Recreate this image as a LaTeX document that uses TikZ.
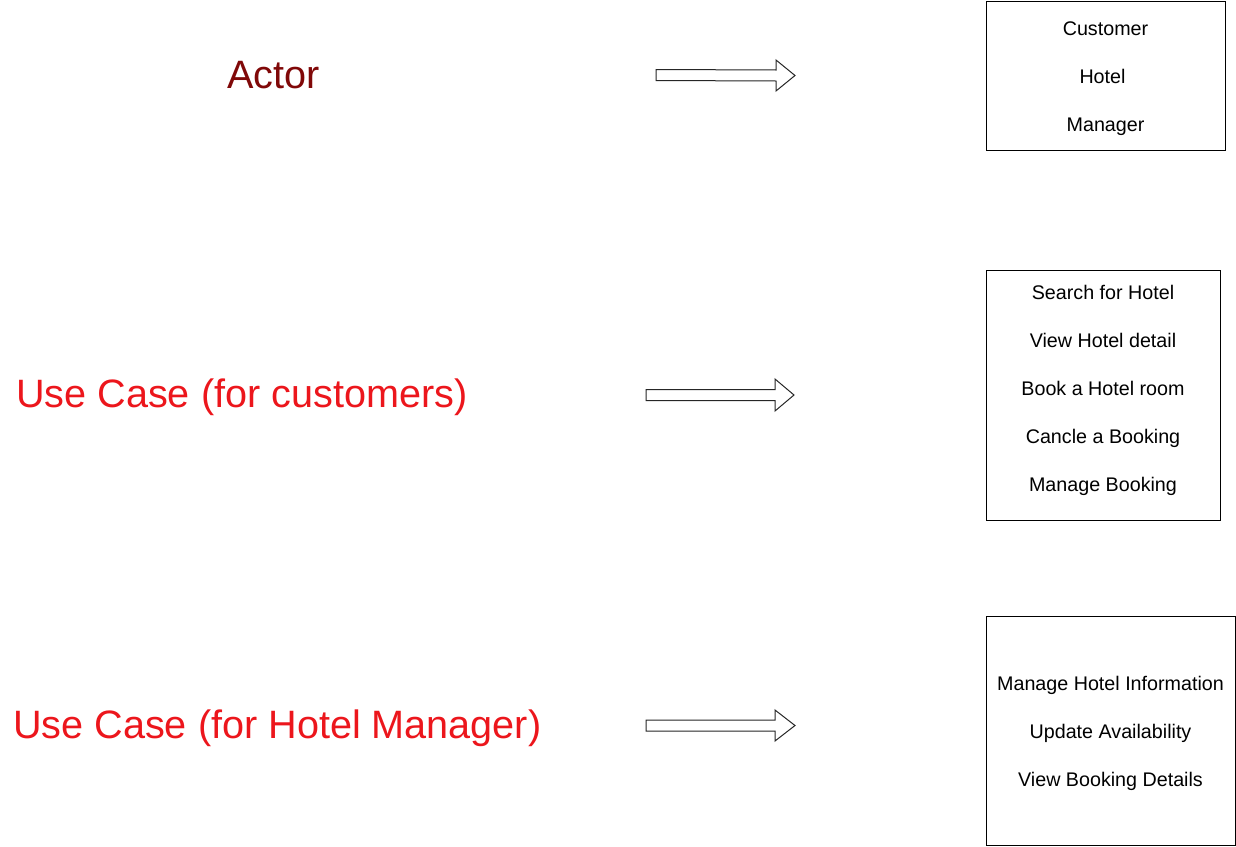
\documentclass[tikz,border=0pt]{standalone}
\usepackage{fontspec}
\setmainfont{Liberation Sans}
\definecolor{actorred}{RGB}{128,8,8}
\definecolor{ucred}{RGB}{236,22,28}
\tikzset{
  bigtitle/.style={font=\fontsize{39.6}{44}\selectfont, inner sep=0pt, anchor=base west},
  boxitem/.style={font=\fontsize{19.7}{22}\selectfont, inner sep=0pt, anchor=base},
  frame/.style={draw=black, line width=1pt, fill=white},
  blockarrow/.style={draw=black!85, line width=1pt, fill=white, line join=miter},
}
\begin{document}
\begin{tikzpicture}[x=1pt,y=-1pt]
\useasboundingbox (0,0) rectangle (1236,846);
% titles
\node[bigtitle, text=actorred] (actor) at (227,88) {Actor};
\node[bigtitle, text=ucred] (uccust) at (16,407) {Use Case (for customers)};
\node[bigtitle, text=ucred] (ucmgr) at (13,738) {Use Case (for Hotel Manager)};
% block arrows
\draw[blockarrow] (656,69.5) -- (776,70) -- (776,60) -- (795,75.5) -- (776,91) -- (776,81) -- (656,80.5) -- cycle;
\draw[blockarrow] (646,389.5) -- (775,389.5) -- (775,379) -- (794,395) -- (775,411) -- (775,400.5) -- (646,400.5) -- cycle;
\draw[blockarrow] (646,720) -- (775,720) -- (775,710) -- (795,725.5) -- (775,741) -- (775,731) -- (646,731) -- cycle;
% boxes
\node[frame, minimum width=239pt, minimum height=149pt, anchor=north west, inner sep=0pt] (actors) at (986,1) {};
\node[frame, minimum width=234pt, minimum height=250pt, anchor=north west, inner sep=0pt] (custcases) at (986,270) {};
\node[frame, minimum width=249pt, minimum height=229pt, anchor=north west, inner sep=0pt] (mgrcases) at (986,616) {};
% box 1 items
\node[boxitem] (a1) at (1105.5,35) {Customer};
\node[boxitem] (a2) at (1102.5,83) {Hotel};
\node[boxitem] (a3) at (1105.5,131) {Manager};
% box 2 items
\node[boxitem] (c1) at (1103,299) {Search for Hotel};
\node[boxitem] (c2) at (1103,347) {View Hotel detail};
\node[boxitem] (c3) at (1103,395) {Book a Hotel room};
\node[boxitem] (c4) at (1103,443) {Cancle a Booking};
\node[boxitem] (c5) at (1103,491) {Manage Booking};
% box 3 items
\node[boxitem] (m1) at (1110.5,690) {Manage Hotel Information};
\node[boxitem] (m2) at (1110.5,738) {Update Availability};
\node[boxitem] (m3) at (1110.5,786) {View Booking Details};
\end{tikzpicture}
\end{document}
